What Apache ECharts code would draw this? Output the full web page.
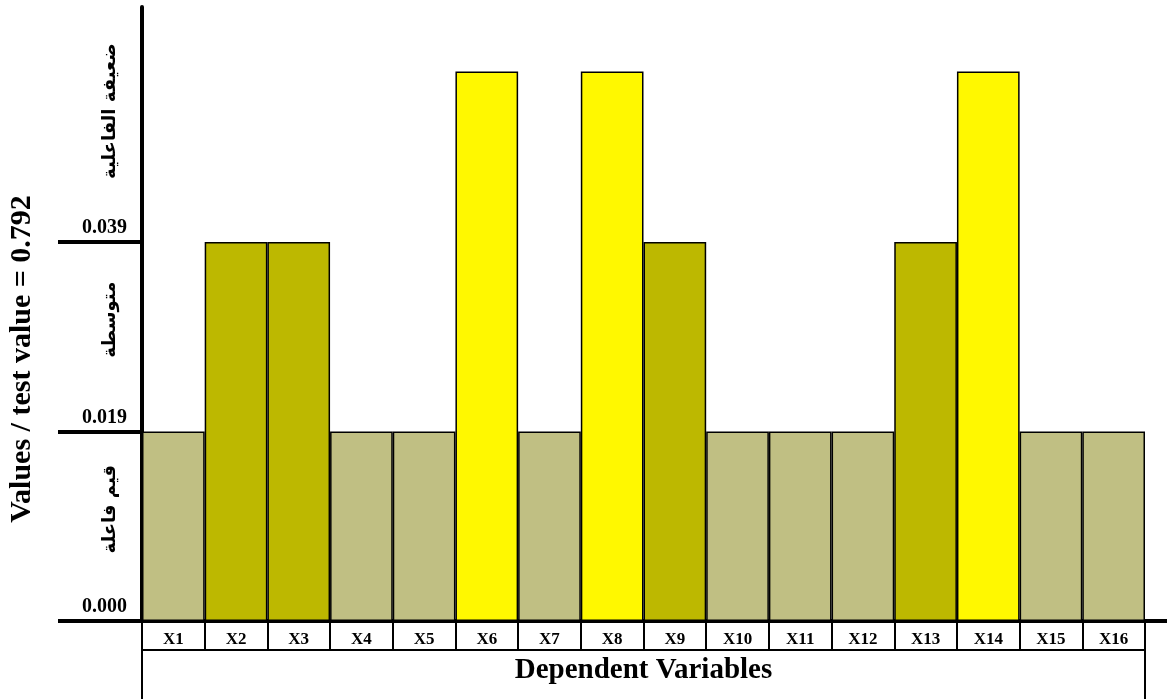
<!DOCTYPE html>
<html>
<head>
<meta charset="utf-8">
<script src="https://cdn.jsdelivr.net/npm/echarts@6/dist/echarts.min.js"></script>
<style>
html,body{margin:0;padding:0;background:#fff;}
#c{width:1167px;height:699px;}
</style>
</head>
<body>
<div id="c"></div>
<script>
// ---- data ----
const categories = ['X1','X2','X3','X4','X5','X6','X7','X8','X9','X10','X11','X12','X13','X14','X15','X16'];
// bar heights in band units: 1 = 0.019 level, 2 = 0.039 level, 2.9 = top ("ضعيفة الفاعلية")
const barValues = [1, 2, 2, 1, 1, 2.9, 1, 2.9, 2, 1, 1, 1, 2, 2.9, 1, 1];
const tickValues = [0, 1, 2];
const tickLabels = ['0.000', '0.019', '0.039'];
const bandLabels = ['قيم فاعلة', 'متوسطة', 'ضعيفة الفاعلية'];
const yTitle = 'Values / test value = 0.792';
const xTitle = 'Dependent Variables';

// ---- style / layout ----
const bandLabelPos = [0.59, 1.59, 2.69];
const levelColors = { 1: '#C0BF83', 2: '#BDB800', 2.9: '#FFF800' };
const G = { left: 142, right: 22, top: 7, bottom: 78 };
const W = 1167, H = 699;
const serif = '"Liberation Serif", "Times New Roman", serif';

const chart = echarts.init(document.getElementById('c'), null, { renderer: 'canvas' });
const baseY = H - G.bottom;
chart.setOption({
  animation: false,
  backgroundColor: '#fff',
  grid: { left: G.left, right: G.right, top: G.top, bottom: G.bottom, containLabel: false },
  xAxis: {
    type: 'category',
    data: categories,
    axisLine: { show: true, lineStyle: { color: '#000', width: 4 } },
    axisTick: { show: true, interval: 0, length: 29, inside: false, lineStyle: { color: '#000', width: 2 } },
    axisLabel: { interval: 0, margin: 10, color: '#000', fontFamily: serif, fontWeight: 'bold', fontSize: 17 },
    name: xTitle,
    nameLocation: 'middle',
    nameGap: 35,
    nameTextStyle: { color: '#000', fontFamily: serif, fontWeight: 'bold', fontSize: 29 },
    splitLine: { show: false }
  },
  yAxis: [{
    type: 'value',
    min: 0, max: 3.24,
    position: 'left',
    axisLine: { show: true, lineStyle: { color: '#000', width: 4 } },
    axisTick: { show: true, customValues: tickValues, length: 84, lineStyle: { color: '#000', width: 4 } },
    axisLabel: {
      customValues: tickValues,
      formatter: v => tickLabels[tickValues.indexOf(Math.round(v))] || '',
      margin: 15, color: '#000', fontFamily: serif, fontWeight: 'bold', fontSize: 20,
      verticalAlign: 'bottom', padding: [0, 0, 4, 0]
    },
    splitLine: { show: false }
  }, {
    type: 'value',
    min: 0, max: 3.24,
    position: 'left',
    axisLine: { show: false },
    axisTick: { show: false },
    splitLine: { show: false },
    axisLabel: {
      customValues: bandLabelPos,
      formatter: v => bandLabels[bandLabelPos.indexOf(v)] || '',
      rotate: 90, margin: 23, color: '#000',
      fontFamily: '"DejaVu Sans", sans-serif', fontWeight: 'bold', fontSize: 18
    }
  }],
  series: [{
    type: 'bar',
    data: barValues.map(v => ({ value: v, itemStyle: { color: levelColors[v] } })),
    barCategoryGap: '0%',
    itemStyle: { borderColor: '#000', borderWidth: 1.5 },
    z: 1
  }],
  graphic: [
    { type: 'text', x: 22, y: 359, rotation: Math.PI / 2,
      style: { text: yTitle, font: 'bold 30px "Liberation Serif", serif', fill: '#000', align: 'center', verticalAlign: 'middle' } },
    { type: 'line', shape: { x1: W - G.right, y1: baseY, x2: W, y2: baseY }, style: { stroke: '#000', lineWidth: 4 } },
    { type: 'rect', shape: { x: G.left, y: baseY + 29, width: W - G.left - G.right, height: 60 },
      style: { fill: 'none', stroke: '#000', lineWidth: 2 }, z: 10 }
  ]
});
</script>
</body>
</html>
